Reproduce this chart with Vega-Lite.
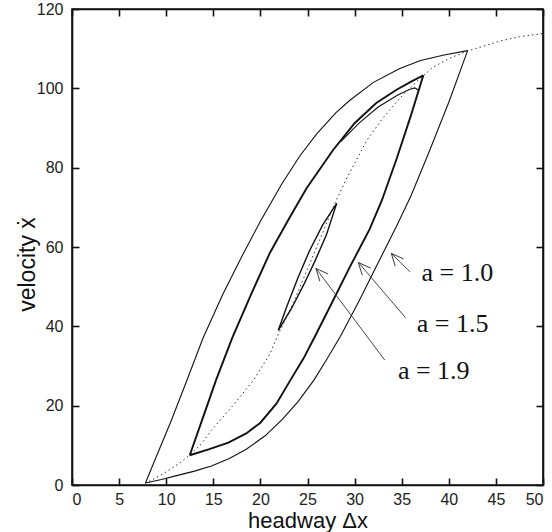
{
  "$schema": "https://vega.github.io/schema/vega-lite/v6.json",
  "autosize": "none",
  "width": 471,
  "height": 476,
  "padding": {"left": 72, "top": 9, "right": 9, "bottom": 47},
  "background": "white",
  "config": {
    "view": {"stroke": "#111", "strokeWidth": 1.6},
    "axis": {
      "domainColor": "#111", "domainWidth": 1.6, "tickColor": "#111", "tickWidth": 1.6,
      "tickSize": -7, "grid": false, "labelFont": "Liberation Sans", "labelFontSize": 16,
      "labelColor": "#222", "titleFont": "Liberation Sans", "titleFontSize": 23,
      "titleFontWeight": "normal", "titleColor": "#111"
    }
  },
  "datasets": {
    "curves": [
      {"s": "ov", "x": 7.3, "y": 0}, {"s": "ov", "x": 8.5, "y": 1.3}, {"s": "ov", "x": 10, "y": 3.3}, {"s": "ov", "x": 11.3, "y": 5.3}, {"s": "ov", "x": 12.5, "y": 7.5}, {"s": "ov", "x": 13.7, "y": 10.3}, {"s": "ov", "x": 14.8, "y": 13.8}, {"s": "ov", "x": 17, "y": 19.8}, {"s": "ov", "x": 19.3, "y": 26.5}, {"s": "ov", "x": 21, "y": 33}, {"s": "ov", "x": 22, "y": 38.5}, {"s": "ov", "x": 23.5, "y": 46}, {"s": "ov", "x": 25.1, "y": 55}, {"s": "ov", "x": 26.5, "y": 63}, {"s": "ov", "x": 27.9, "y": 71}, {"s": "ov", "x": 29.2, "y": 77.5}, {"s": "ov", "x": 31.3, "y": 86.9}, {"s": "ov", "x": 33, "y": 92.5}, {"s": "ov", "x": 34.8, "y": 97.5}, {"s": "ov", "x": 36.5, "y": 101.5}, {"s": "ov", "x": 38.3, "y": 105.3}, {"s": "ov", "x": 40, "y": 107.5}, {"s": "ov", "x": 42, "y": 109.4}, {"s": "ov", "x": 45.4, "y": 111.9}, {"s": "ov", "x": 47.5, "y": 113}, {"s": "ov", "x": 50, "y": 113.8},
      {"s": "a1_up", "x": 7.8, "y": 0.5}, {"s": "a1_up", "x": 8.8, "y": 6.3}, {"s": "a1_up", "x": 10.5, "y": 16}, {"s": "a1_up", "x": 12.2, "y": 26.4}, {"s": "a1_up", "x": 13.9, "y": 37}, {"s": "a1_up", "x": 16, "y": 48}, {"s": "a1_up", "x": 18, "y": 57.5}, {"s": "a1_up", "x": 20, "y": 66.5}, {"s": "a1_up", "x": 22.3, "y": 76}, {"s": "a1_up", "x": 24.2, "y": 83}, {"s": "a1_up", "x": 26, "y": 88.6}, {"s": "a1_up", "x": 28, "y": 93.8}, {"s": "a1_up", "x": 29.5, "y": 97}, {"s": "a1_up", "x": 32, "y": 101.5}, {"s": "a1_up", "x": 34.8, "y": 105}, {"s": "a1_up", "x": 37, "y": 107}, {"s": "a1_up", "x": 39.5, "y": 108.4}, {"s": "a1_up", "x": 42, "y": 109.5},
      {"s": "a1_lo", "x": 7.8, "y": 0.5}, {"s": "a1_lo", "x": 9.5, "y": 1.4}, {"s": "a1_lo", "x": 11, "y": 2.3}, {"s": "a1_lo", "x": 13, "y": 3.5}, {"s": "a1_lo", "x": 14.8, "y": 4.8}, {"s": "a1_lo", "x": 16.7, "y": 6.7}, {"s": "a1_lo", "x": 18.5, "y": 9}, {"s": "a1_lo", "x": 20.5, "y": 12.4}, {"s": "a1_lo", "x": 22.3, "y": 16.5}, {"s": "a1_lo", "x": 24, "y": 21}, {"s": "a1_lo", "x": 25.7, "y": 26.5}, {"s": "a1_lo", "x": 27, "y": 31.5}, {"s": "a1_lo", "x": 28.5, "y": 37.5}, {"s": "a1_lo", "x": 30.5, "y": 46.5}, {"s": "a1_lo", "x": 32.5, "y": 56}, {"s": "a1_lo", "x": 34.5, "y": 65.5}, {"s": "a1_lo", "x": 36, "y": 73}, {"s": "a1_lo", "x": 38, "y": 84.5}, {"s": "a1_lo", "x": 40, "y": 96.5}, {"s": "a1_lo", "x": 42, "y": 109.5},
      {"s": "a15_up", "x": 12.5, "y": 7.5}, {"s": "a15_up", "x": 13.9, "y": 17}, {"s": "a15_up", "x": 15.3, "y": 26.5}, {"s": "a15_up", "x": 17, "y": 37}, {"s": "a15_up", "x": 19, "y": 48}, {"s": "a15_up", "x": 21, "y": 58.5}, {"s": "a15_up", "x": 23, "y": 67}, {"s": "a15_up", "x": 24.9, "y": 74.8}, {"s": "a15_up", "x": 27.7, "y": 84.4}, {"s": "a15_up", "x": 30, "y": 91.2}, {"s": "a15_up", "x": 32.3, "y": 96.3}, {"s": "a15_up", "x": 34.5, "y": 99.7}, {"s": "a15_up", "x": 36, "y": 101.7}, {"s": "a15_up", "x": 37.3, "y": 103.3},
      {"s": "a15_lo", "x": 12.5, "y": 7.5}, {"s": "a15_lo", "x": 14.5, "y": 9}, {"s": "a15_lo", "x": 16.6, "y": 10.7}, {"s": "a15_lo", "x": 18.5, "y": 13}, {"s": "a15_lo", "x": 20, "y": 15.7}, {"s": "a15_lo", "x": 21.7, "y": 20.5}, {"s": "a15_lo", "x": 23.2, "y": 26.5}, {"s": "a15_lo", "x": 24.6, "y": 32}, {"s": "a15_lo", "x": 25.8, "y": 37.5}, {"s": "a15_lo", "x": 27.5, "y": 45.5}, {"s": "a15_lo", "x": 29.5, "y": 55}, {"s": "a15_lo", "x": 31.6, "y": 64.5}, {"s": "a15_lo", "x": 32.9, "y": 71.8}, {"s": "a15_lo", "x": 34.5, "y": 82.5}, {"s": "a15_lo", "x": 36, "y": 93.3}, {"s": "a15_lo", "x": 37.3, "y": 103.3},
      {"s": "a15_tr", "x": 28.5, "y": 86.5}, {"s": "a15_tr", "x": 30.5, "y": 91.3}, {"s": "a15_tr", "x": 32.5, "y": 95.3}, {"s": "a15_tr", "x": 34.5, "y": 98.2}, {"s": "a15_tr", "x": 35.8, "y": 99.7}, {"s": "a15_tr", "x": 36.4, "y": 100.1}, {"s": "a15_tr", "x": 36.8, "y": 99.5},
      {"s": "a19_l", "x": 21.9, "y": 39}, {"s": "a19_l", "x": 22.8, "y": 45}, {"s": "a19_l", "x": 24, "y": 52.3}, {"s": "a19_l", "x": 25.2, "y": 59}, {"s": "a19_l", "x": 26.6, "y": 65.5}, {"s": "a19_l", "x": 28.1, "y": 71},
      {"s": "a19_r", "x": 21.9, "y": 39}, {"s": "a19_r", "x": 23.3, "y": 44.5}, {"s": "a19_r", "x": 24.6, "y": 50.5}, {"s": "a19_r", "x": 25.8, "y": 56.5}, {"s": "a19_r", "x": 27, "y": 63}, {"s": "a19_r", "x": 28.1, "y": 71}
    ],
    "arrows": [
      {"hx": 33.9, "hy": 58.4, "tx": 35.9, "ty": 53.7},
      {"hx": 30.4, "hy": 56.1, "tx": 35.4, "ty": 42.2},
      {"hx": 25.9, "hy": 54.6, "tx": 33.2, "ty": 31.5}
    ],
    "labels": [
      {"label": "a = 1.0", "x": 40.9, "y": 53.4},
      {"label": "a = 1.5", "x": 40.4, "y": 40.7},
      {"label": "a = 1.9", "x": 38.4, "y": 28.7}
    ]
  },
  "resolve": {"axis": {"x": "independent", "y": "independent"}},
  "layer": [
    {
      "data": {"name": "curves"},
      "transform": [{"filter": "datum.s === 'ov'"}],
      "mark": {"type": "line", "stroke": "#333", "strokeWidth": 1, "strokeDash": [1.5, 3]},
      "encoding": {
        "x": {"field": "x", "type": "quantitative", "scale": {"domain": [0, 50], "nice": false},
              "axis": {"orient": "bottom", "values": [0,5,10,15,20,25,30,35,40,45,50], "title": "headway Δx", "labelPadding": 13, "titleY": 42, "titleBaseline": "alphabetic", "titleFontSize": 22}},
        "y": {"field": "y", "type": "quantitative", "scale": {"domain": [0, 120], "nice": false},
              "axis": {"orient": "left", "values": [0,20,40,60,80,100,120], "title": "velocity ẋ", "labelPadding": 16, "titleX": -38, "titleY": 255, "titleBaseline": "alphabetic"}}
      }
    },
    {
      "data": {"name": "curves"},
      "transform": [{"filter": "datum.s === 'a1_up' || datum.s === 'a1_lo'"}],
      "mark": {"type": "line", "stroke": "#111", "strokeWidth": 1.1},
      "encoding": {
        "x": {"field": "x", "type": "quantitative", "axis": null},
        "y": {"field": "y", "type": "quantitative", "axis": null},
        "detail": {"field": "s"}
      }
    },
    {
      "data": {"name": "curves"},
      "transform": [{"filter": "datum.s === 'a15_up' || datum.s === 'a15_lo'"}],
      "mark": {"type": "line", "stroke": "#111", "strokeWidth": 1.9},
      "encoding": {
        "x": {"field": "x", "type": "quantitative", "axis": null},
        "y": {"field": "y", "type": "quantitative", "axis": null},
        "detail": {"field": "s"}
      }
    },
    {
      "data": {"name": "curves"},
      "transform": [{"filter": "datum.s === 'a15_tr'"}],
      "mark": {"type": "line", "stroke": "#111", "strokeWidth": 1.1},
      "encoding": {
        "x": {"field": "x", "type": "quantitative", "axis": null},
        "y": {"field": "y", "type": "quantitative", "axis": null}
      }
    },
    {
      "data": {"name": "curves"},
      "transform": [{"filter": "datum.s === 'a19_l' || datum.s === 'a19_r'"}],
      "mark": {"type": "line", "stroke": "#111", "strokeWidth": 1.4},
      "encoding": {
        "x": {"field": "x", "type": "quantitative", "axis": null},
        "y": {"field": "y", "type": "quantitative", "axis": null},
        "detail": {"field": "s"}
      }
    },
    {
      "data": {"name": "arrows"},
      "mark": {"type": "rule", "stroke": "#333", "strokeWidth": 0.9},
      "encoding": {
        "x": {"field": "hx", "type": "quantitative", "axis": null},
        "y": {"field": "hy", "type": "quantitative", "axis": null},
        "x2": {"field": "tx"},
        "y2": {"field": "ty"}
      }
    },
    {
      "data": {"name": "arrows"},
      "mark": {"type": "point", "shape": "M -1 -0.45 L 0 0 L -1 0.45", "filled": false, "stroke": "#333", "strokeWidth": 0.9, "size": 600, "angle": 229, "opacity": 1},
      "encoding": {
        "x": {"field": "hx", "type": "quantitative", "axis": null},
        "y": {"field": "hy", "type": "quantitative", "axis": null}
      }
    },
    {
      "data": {"name": "labels"},
      "mark": {"type": "text", "font": "Liberation Serif", "fontSize": 26, "color": "#111", "align": "center", "baseline": "middle"},
      "encoding": {
        "x": {"field": "x", "type": "quantitative", "axis": null},
        "y": {"field": "y", "type": "quantitative", "axis": null},
        "text": {"field": "label"}
      }
    },
    {
      "data": {"name": "curves"},
      "transform": [{"filter": "datum.s === 'ov'"}],
      "mark": {"type": "point", "opacity": 0},
      "encoding": {
        "x": {"field": "x", "type": "quantitative",
              "axis": {"orient": "top", "values": [0,5,10,15,20,25,30,35,40,45,50], "labels": false, "title": null}},
        "y": {"field": "y", "type": "quantitative",
              "axis": {"orient": "right", "values": [0,20,40,60,80,100,120], "labels": false, "title": null}}
      }
    }
  ]
}
